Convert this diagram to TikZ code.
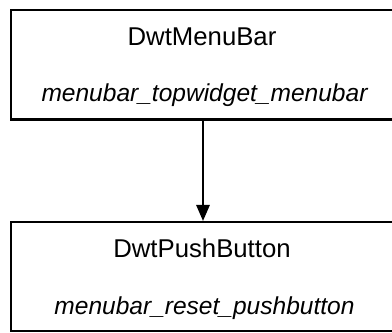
\documentclass[tikz,border=0pt]{standalone}
\usepackage{fontspec}
\setmainfont{Liberation Sans}
\usetikzlibrary{arrows.meta}
\begin{document}
\begin{tikzpicture}[x=0.75pt,y=-0.75pt,
  classbox/.style={draw=black,line width=1.6pt,fill=white,inner sep=0pt,minimum width=383.4*0.75pt},
  title/.style={font=\fontsize{19.3pt}{23pt}\selectfont,anchor=base},
  inst/.style={font=\fontsize{18.4pt}{22pt}\selectfont\itshape,anchor=base},
  link/.style={line width=1.5pt,-{Triangle[length=12pt,width=10pt]}}]
\useasboundingbox (0,0) rectangle (392,332);
\begin{scope}
\clip (0,0) rectangle (392,332);
% class boxes
\node[classbox,minimum height=109.8*0.75pt] (menubar) at (203,64.6) {};
\node[classbox,minimum height=109*0.75pt] (pushbutton) at (203,276.5) {};
\end{scope}
% labels
\node[title] (menubarname) at (202,45.4) {DwtMenuBar};
\node[inst] (menubarinst) at (204.5,101.5) {menubar\_topwidget\_menubar};
\node[title] (pushbuttonname) at (202,257.7) {DwtPushButton};
\node[inst] (pushbuttoninst) at (204.5,314) {menubar\_reset\_pushbutton};
% containment
\draw[link] (menubar.south) -- (pushbutton.north);
\end{tikzpicture}
\end{document}
